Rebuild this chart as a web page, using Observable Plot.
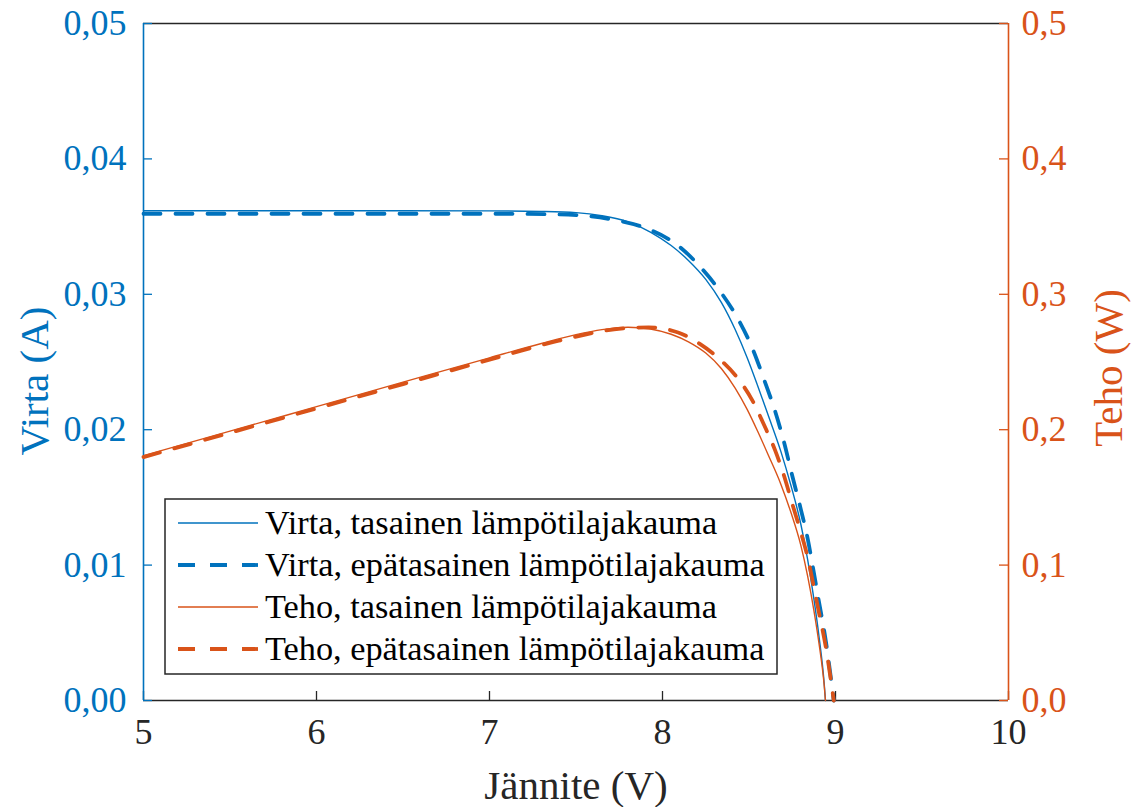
<!DOCTYPE html>
<html>
<head>
<meta charset="utf-8">
<script src="https://cdn.jsdelivr.net/npm/d3@7"></script>
<script src="https://cdn.jsdelivr.net/npm/@observablehq/plot@0.6"></script>
<style>
  body { margin: 0; background: white; }
  #wrap { position: relative; width: 1138px; height: 807px; }
  #wrap > svg { position: absolute; left: 0; top: 0; }
  #wrap svg, #wrap svg text { font-family: "Liberation Serif", "Times New Roman", Times, Tinos, "Nimbus Roman", "Nimbus Roman No9 L", FreeSerif, "Noto Serif", "DejaVu Serif", serif !important; }
</style>
</head>
<body>
<div id="wrap"></div>
<script>
// ---- data ----
const xTicks = [5, 6, 7, 8, 9, 10];
const currentTicks = [0, 0.01, 0.02, 0.03, 0.04, 0.05];
const powerTicks = [0, 0.1, 0.2, 0.3, 0.4, 0.5];

// Virta, tasainen lämpötilajakauma (V, A)
const voltUniformI = [5.0, 6.0, 7.0, 7.3, 7.5, 7.65, 7.8, 7.93, 8.05, 8.15, 8.25, 8.34, 8.42, 8.49, 8.55, 8.61, 8.684, 8.742, 8.80, 8.839, 8.875, 8.904, 8.935, 8.942];
const currentUniform = [0.03617, 0.03617, 0.03616, 0.03612, 0.03603, 0.0358, 0.03535, 0.0346, 0.0336, 0.0325, 0.0311, 0.0294, 0.0274, 0.0253, 0.02325, 0.0211, 0.0184, 0.0159, 0.013, 0.0104, 0.0075, 0.0048, 0.0012, 0.0];

// Virta, epätasainen lämpötilajakauma
const voltNonUniformI = [5.0, 7.0, 7.4, 7.72, 7.92, 8.09, 8.22, 8.34, 8.44, 8.52, 8.59, 8.65, 8.70, 8.75, 8.80, 8.84, 8.87, 8.90, 8.944, 8.975, 8.99];
const currentNonUniform = [0.03595, 0.03595, 0.0359, 0.0355, 0.0348, 0.0336, 0.032, 0.0301, 0.0281, 0.026, 0.0236, 0.0214, 0.0192, 0.0166, 0.0141, 0.0119, 0.0098, 0.0076, 0.0044, 0.0015, 0.0];

// Teho, tasainen lämpötilajakauma (V, W)
const voltUniformP = [5.0, 5.5, 6.0, 6.5, 7.0, 7.3, 7.5, 7.65, 7.8, 7.93, 8.05, 8.15, 8.25, 8.34, 8.42, 8.49, 8.55, 8.61, 8.684, 8.742, 8.80, 8.839, 8.875, 8.904, 8.935, 8.942];
const powerUniform = [0.1809, 0.1989, 0.217, 0.2351, 0.2531, 0.2637, 0.2702, 0.2739, 0.2757, 0.2744, 0.2705, 0.2649, 0.2566, 0.2452, 0.2307, 0.2148, 0.1988, 0.1817, 0.1598, 0.139, 0.1144, 0.0919, 0.0666, 0.0427, 0.0107, 0.0];

// Teho, epätasainen lämpötilajakauma
const voltNonUniformP = [5.0, 5.5, 6.0, 6.5, 7.0, 7.4, 7.72, 7.92, 8.09, 8.22, 8.34, 8.44, 8.52, 8.59, 8.65, 8.70, 8.75, 8.80, 8.84, 8.87, 8.90, 8.944, 8.975, 8.99];
const powerNonUniform = [0.1798, 0.1977, 0.2157, 0.2337, 0.2517, 0.2657, 0.2741, 0.2756, 0.2718, 0.263, 0.251, 0.2372, 0.2215, 0.2027, 0.1851, 0.167, 0.1453, 0.1241, 0.1052, 0.0869, 0.0676, 0.0394, 0.0135, 0.0];

const legendLabels = [
  "Virta, tasainen lämpötilajakauma",
  "Virta, epätasainen lämpötilajakauma",
  "Teho, tasainen lämpötilajakauma",
  "Teho, epätasainen lämpötilajakauma"
];

// ---- styles ----
const BLUE = "#0072BD", ORANGE = "#D95319", AXIS = "#262626";
const FONT = "Liberation Serif, Times New Roman, Times, Tinos, Nimbus Roman, FreeSerif, Noto Serif, DejaVu Serif, serif";
const W = 1138, H = 807;
const M = {left: 143, right: 130, top: 23, bottom: 107};
const frameW = W - M.left - M.right, frameH = H - M.top - M.bottom;
const TICK = 9;

const zip = (xs, ys) => xs.map((v, i) => ({v, y: ys[i]}));
const iSolid = zip(voltUniformI, currentUniform);
const iDash = zip(voltNonUniformI, currentNonUniform);
const pSolid = zip(voltUniformP, powerUniform);
const pDash = zip(voltNonUniformP, powerNonUniform);

const comma = (d, n) => d.toFixed(n).replace(".", ",");

const common = {
  width: W, height: H,
  marginLeft: M.left, marginRight: M.right, marginTop: M.top, marginBottom: M.bottom
};

// Left (current) chart
const plot1 = Plot.plot({
  ...common,
  style: "font-family: " + FONT + "; font-size: 36px; background: white; overflow: visible;",
  x: {domain: [5, 10], label: null},
  y: {domain: [0, 0.05], label: null},
  marks: [
    Plot.ruleY([0, 0.05], {stroke: AXIS, strokeWidth: 1.6}),
    Plot.tickX(xTicks, {x: d => d, insetTop: frameH - TICK, stroke: AXIS, strokeWidth: 1.3}),
    Plot.tickY(currentTicks, {y: d => d, insetRight: frameW - TICK, stroke: BLUE, strokeWidth: 1.3}),
    Plot.line(iSolid, {x: "v", y: "y", stroke: BLUE, strokeWidth: 1.4, curve: "monotone-x"}),
    Plot.line(iDash, {x: "v", y: "y", stroke: BLUE, strokeWidth: 3.8, strokeDasharray: "17,15", curve: "monotone-x"}),
    Plot.ruleX([5], {stroke: BLUE, strokeWidth: 1.6}),
    Plot.axisX({ticks: xTicks, tickSize: 0, tickPadding: 18, tickFormat: d => String(d), color: AXIS, label: null, fontSize: 36, fontFamily: FONT}),
    Plot.axisY({ticks: currentTicks, anchor: "left", tickSize: 0, tickPadding: 17, tickFormat: d => comma(d, 2), color: BLUE, label: null, fontSize: 36, fontFamily: FONT}),
    Plot.text(["Jännite (V)"], {frameAnchor: "bottom", dy: 85, fill: AXIS, fontSize: 41, fontFamily: FONT, lineAnchor: "middle", textAnchor: "middle"}),
    Plot.text(["Virta (A)"], {frameAnchor: "left", rotate: -90, dx: -109, dy: 19, fill: BLUE, fontSize: 41, fontFamily: FONT, lineAnchor: "middle", textAnchor: "middle"})
  ]
});

// Right (power) chart, overlaid
const plot2 = Plot.plot({
  ...common,
  style: "font-family: " + FONT + "; font-size: 36px; background: transparent; overflow: visible;",
  x: {domain: [5, 10], axis: null, label: null},
  y: {domain: [0, 0.5], label: null},
  marks: [
    Plot.tickY(powerTicks, {y: d => d, insetLeft: frameW - TICK, stroke: ORANGE, strokeWidth: 1.3}),
    Plot.line(pSolid, {x: "v", y: "y", stroke: ORANGE, strokeWidth: 1.4, curve: "monotone-x"}),
    Plot.line(pDash, {x: "v", y: "y", stroke: ORANGE, strokeWidth: 3.8, strokeDasharray: "17,15", curve: "monotone-x"}),
    Plot.ruleX([10], {stroke: ORANGE, strokeWidth: 1.6}),
    Plot.axisY({ticks: powerTicks, anchor: "right", tickSize: 0, tickPadding: 13, tickFormat: d => comma(d, 1), color: ORANGE, label: null, fontSize: 36, fontFamily: FONT}),
    Plot.text(["Teho (W)"], {frameAnchor: "right", rotate: -90, dx: 100, dy: 6, fill: ORANGE, fontSize: 41, fontFamily: FONT, lineAnchor: "middle", textAnchor: "middle"})
  ]
});

const wrap = document.getElementById("wrap");
wrap.appendChild(plot1);
wrap.appendChild(plot2);

// Legend
const leg = d3.create("svg").attr("width", W).attr("height", H).attr("font-family", FONT);
const box = {x: 165, y: 499, w: 612, h: 175};
leg.append("rect").attr("x", box.x).attr("y", box.y).attr("width", box.w).attr("height", box.h)
  .attr("fill", "white").attr("stroke", AXIS).attr("stroke-width", 1.5);
const legStyles = [
  {stroke: BLUE, w: 1.4, dash: null},
  {stroke: BLUE, w: 3.8, dash: "17,15"},
  {stroke: ORANGE, w: 1.4, dash: null},
  {stroke: ORANGE, w: 3.8, dash: "17,15"}
];
const rowY = [523, 565, 607, 649];
legendLabels.forEach((lab, i) => {
  const s = legStyles[i];
  const ln = leg.append("line").attr("x1", 178).attr("x2", 258).attr("y1", rowY[i]).attr("y2", rowY[i])
    .attr("stroke", s.stroke).attr("stroke-width", s.w);
  if (s.dash) ln.attr("stroke-dasharray", s.dash);
  leg.append("text").attr("x", 265).attr("y", rowY[i]).attr("dy", "0.33em")
    .attr("font-size", 34.3).attr("font-family", FONT).attr("fill", "#000").text(lab);
});
wrap.appendChild(leg.node());
</script>
</body>
</html>
